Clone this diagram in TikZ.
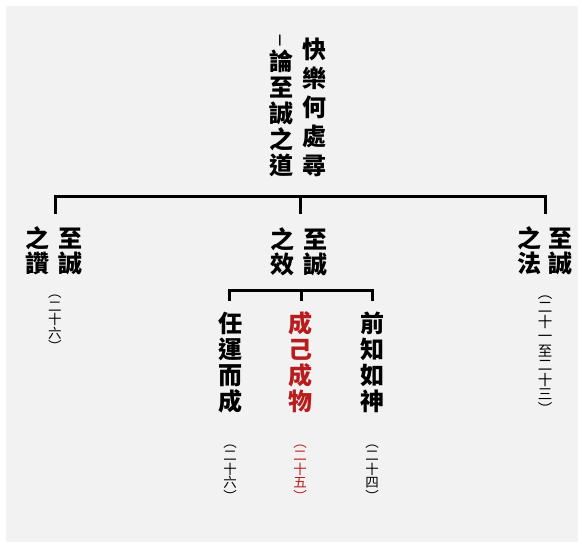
\documentclass[tikz,border=0pt]{standalone}
\usepackage{fontspec}
\newfontfamily\cjk{Noto Sans CJK TC}
\definecolor{bggray}{RGB}{242,242,242}
\definecolor{redtxt}{RGB}{185,28,28}
\tikzset{
  vcol/.style={font=\cjk\bfseries\fontsize{24}{#1}\selectfont, align=center, inner sep=0pt},
  vsmall/.style={font=\cjk\fontsize{#1}{#1}\selectfont, align=center, inner sep=0pt},
  branch/.style={line width=3pt, line join=miter, draw=black}
}
\begin{document}
\begin{tikzpicture}[x=1pt,y=-1pt]
\useasboundingbox (0,0) rectangle (582,547);
\fill[bggray] (6,6) rectangle (578,542);
% title
\node[vcol=29] (t1) at (314,107) {快\\樂\\何\\處\\尋};
\node[font=\cjk\bfseries\fontsize{13}{13}\selectfont, inner sep=0pt] (tdash) at (280,41) {\scalebox{2.2}[1]{︱}};
\node[vcol=26] (t2) at (281,113.5) {論\\至\\誠\\之\\道};
% level 2
\node[vcol=25] (aR) at (70,251) {至\\誠};
\node[vcol=25] (aL) at (38,251) {之\\讚};
\node[vsmall=13.5] (aN) at (55,323.5) {︵\\二\\十\\六\\︶};
\node[vcol=25] (bR) at (315,252) {至\\誠};
\node[vcol=25] (bL) at (282,252) {之\\效};
\node[vcol=25] (cR) at (560,251) {至\\誠};
\node[vcol=25] (cL) at (529,251) {之\\法};
\node[vsmall=14.5] (cN) at (545,355) {︵\\二\\十\\一\\至\\二\\十\\三\\︶};
% level 3
\node[vcol=26] (d1) at (230,362.5) {任\\運\\而\\成};
\node[vcol=26, text=redtxt] (d2) at (300,362.5) {成\\己\\成\\物};
\node[vcol=26] (d3) at (372,362.5) {前\\知\\如\\神};
\node[vsmall=13.5] (d1n) at (230,473) {︵\\二\\十\\六\\︶};
\node[vsmall=13.5, text=redtxt] (d2n) at (300,473) {︵\\二\\十\\五\\︶};
\node[vsmall=13.5] (d3n) at (372,473) {︵\\二\\十\\四\\︶};
% connectors
\coordinate (jL) at (55,196.5);
\coordinate (jM) at (300,196.5);
\coordinate (jR) at (545,196.5);
\coordinate (eL) at (55,214);
\coordinate (eM) at (300,214);
\coordinate (eR) at (545,214);
\draw[branch] (eL) -- (jL) -- (jR) -- (eR);
\draw[branch] (jM) -- (eM);
\coordinate (kL) at (229.5,290);
\coordinate (kM) at (301,290);
\coordinate (kR) at (372.5,290);
\coordinate (fL) at (229.5,300.5);
\coordinate (fM) at (301,300.5);
\coordinate (fR) at (372.5,300.5);
\draw[branch] (fL) -- (kL) -- (kR) -- (fR);
\draw[branch] (kM) -- (fM);
\end{tikzpicture}
\end{document}
